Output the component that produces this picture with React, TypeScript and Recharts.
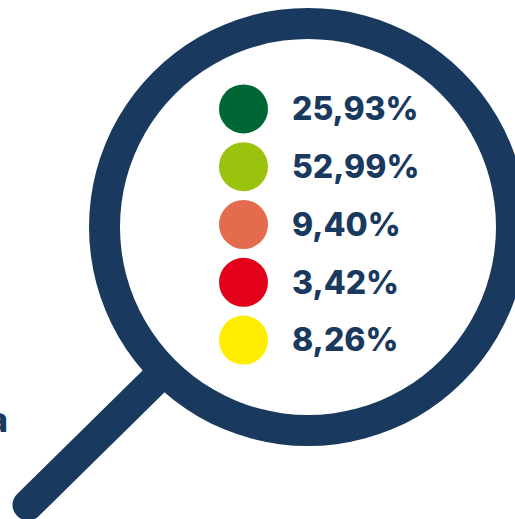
import { Cell, Pie, PieChart, Scatter, ScatterChart, XAxis, YAxis, ZAxis } from "recharts";

const shareLabels = ["25,93%", "52,99%", "9,40%", "3,42%", "8,26%"];
const shareValues = [25.93, 52.99, 9.4, 3.42, 8.26];
const shareColors = ["#006633", "#9BC20D", "#E46C4E", "#E2001A", "#FFED00"];
const lens = [{ name: "lens", value: 100 }];

const navy = "#193A5E";
const rows = shareLabels.map((label, i) => ({ label, column: "share", share: shareValues[i] }));

export default function App() {
  return (
    <div style={{ position: "absolute", left: 0, top: 0, width: 515, height: 519, overflow: "hidden", background: "#fff" }}>
      <div style={{ position: "absolute", left: 0, top: 0 }}>
        <PieChart width={515} height={519} margin={{ top: 0, right: 0, bottom: 0, left: 0 }}>
          <line x1={155} y1={380} x2={28} y2={505} stroke={navy} strokeWidth={31} strokeLinecap="round" />
          <text x={8} y={432} textAnchor="end" fontFamily="Inter" fontWeight={800} fontSize={34} fill={navy}>
            a
          </text>
          <Pie
            data={lens}
            dataKey="value"
            cx={308}
            cy={227}
            innerRadius={188}
            outerRadius={219}
            startAngle={90}
            endAngle={-270}
            fill={navy}
            stroke="none"
            isAnimationActive={false}
          />
        </PieChart>
      </div>
      <div style={{ position: "absolute", left: 0, top: 0 }}>
        <ScatterChart width={515} height={519} margin={{ top: 80, right: 0, bottom: 150, left: 219 }}>
          <XAxis type="category" dataKey="column" hide allowDuplicatedCategory={false} />
          <YAxis
            type="category"
            dataKey="label"
            orientation="right"
            width={247}
            allowDuplicatedCategory={false}
            reversed
            axisLine={false}
            tickLine={false}
            tickMargin={18}
            interval={0}
            tick={{ fill: navy, fontSize: 32, fontWeight: 800, fontFamily: "Inter" }}
          />
          <ZAxis type="number" dataKey="share" range={[1886, 1886]} />
          <Scatter data={rows} isAnimationActive={false}>
            {rows.map((row, i) => (
              <Cell key={row.label} fill={shareColors[i]} />
            ))}
          </Scatter>
        </ScatterChart>
      </div>
    </div>
  );
}
